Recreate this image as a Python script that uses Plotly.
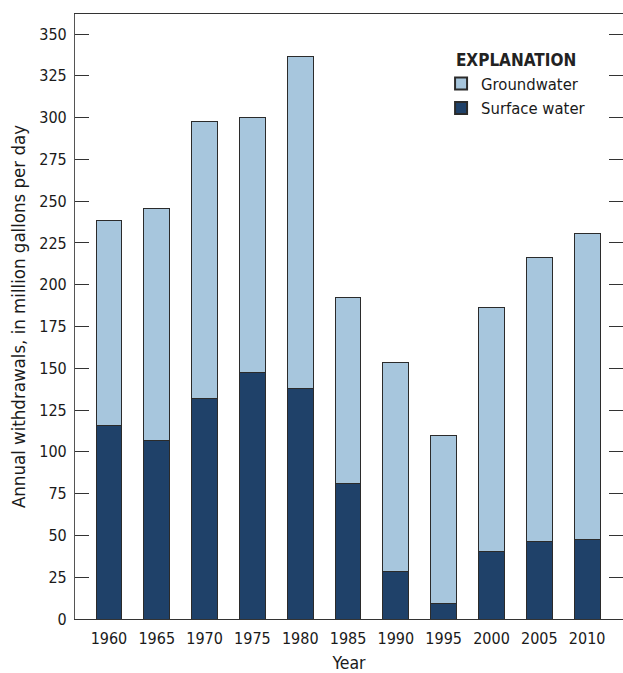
import plotly.graph_objects as go

years = [1960, 1965, 1970, 1975, 1980, 1985, 1990, 1995, 2000, 2005, 2010]
surface_water = [115.9, 106.9, 132.1, 147.6, 138.0, 81.0, 28.4, 9.1, 40.2, 46.4, 47.6]
groundwater = [122.3, 138.8, 165.6, 152.4, 198.8, 111.3, 125.0, 100.9, 146.1, 170.0, 183.0]
y_ticks = list(range(0, 351, 25))

FONT = "Liberation Sans Narrow, Arial Narrow, DejaVu Sans Condensed, sans-serif"
LIGHT = "#a7c6dd"
DARK = "#1f4169"
EDGE = "#2b2b2b"

fig = go.Figure()
fig.add_trace(go.Bar(
    x=years, y=surface_water, name="Surface water", width=2.7,
    marker=dict(color=DARK, line=dict(color=EDGE, width=1)),
))
fig.add_trace(go.Bar(
    x=years, y=groundwater, name="Groundwater", width=2.7,
    marker=dict(color=LIGHT, line=dict(color=EDGE, width=1)),
))

fig.update_layout(
    width=623, height=673,
    margin=dict(l=75, r=0, t=14, b=54),
    barmode="stack",
    plot_bgcolor="white", paper_bgcolor="white",
    font=dict(family=FONT, size=16, color="#1a1a1a"),
    showlegend=True,
    legend=dict(
        title=dict(text="<b>EXPLANATION</b>", side="top center",
                   font=dict(family=FONT, size=17, color="#222")),
        traceorder="reversed",
        x=0.668, y=0.95, xanchor="left", yanchor="top",
        bgcolor="rgba(0,0,0,0)", itemsizing="constant",
        font=dict(family=FONT, size=16.5, color="#1a1a1a"),
        tracegroupgap=0, itemwidth=30,
    ),
    xaxis=dict(
        range=[1956.45, 2013.75],
        tickmode="array", tickvals=years, ticktext=[str(y) for y in years],
        showline=True, linecolor="#333", linewidth=1.2, mirror=True,
        ticks="", showgrid=False, zeroline=False,
        tickfont=dict(size=16), ticklabelstandoff=5,
        title=dict(text="Year", font=dict(size=17.5), standoff=12),
    ),
    yaxis=dict(
        range=[0, 362],
        tickmode="array", tickvals=y_ticks,
        ticks="inside", ticklen=14, tickwidth=1.2, tickcolor="#333",
        showline=True, linecolor="#555", linewidth=1.2, mirror="ticks",
        showgrid=False, zeroline=False,
        tickfont=dict(size=16), ticklabelstandoff=4,
        title=dict(text="Annual withdrawals, in million gallons per day",
                   font=dict(size=18.5), standoff=8),
    ),
)

fig.write_html("out.html")
